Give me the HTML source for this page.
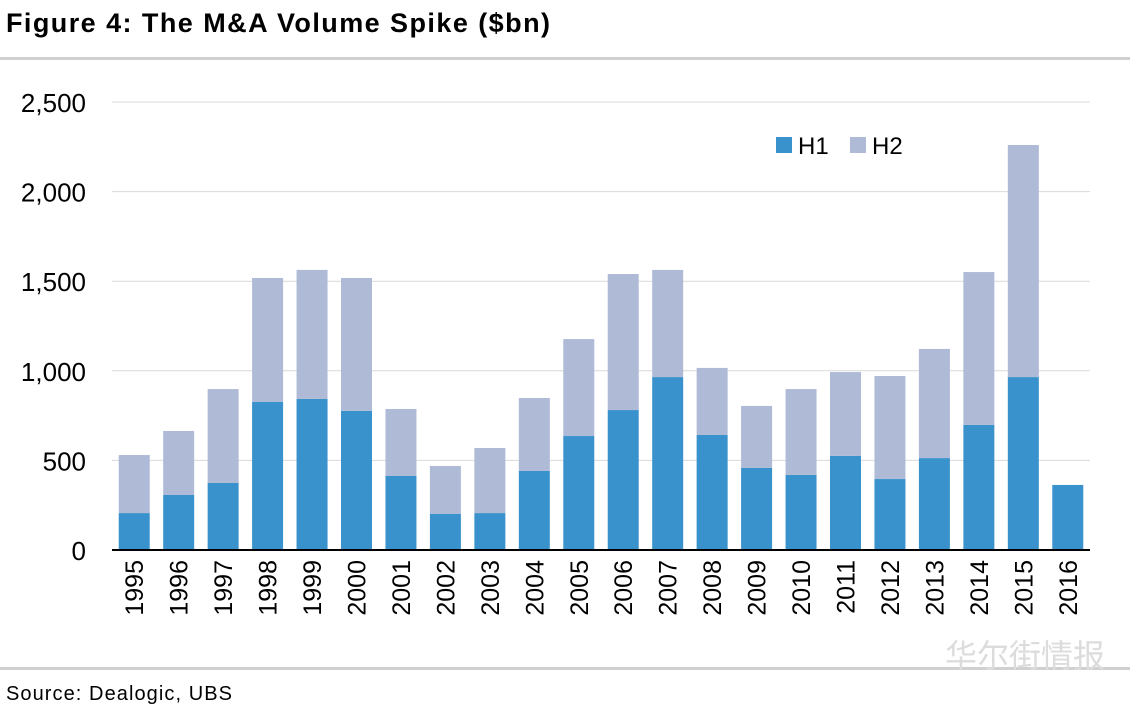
<!DOCTYPE html>
<html><head><meta charset="utf-8"><style>
body{margin:0;width:1140px;height:714px;background:#fff;font-family:"Liberation Sans","Noto Sans CJK SC",sans-serif;overflow:hidden}
</style></head><body>
<svg width="1140" height="714">
<text x="6" y="32" font-size="27" font-weight="bold" fill="#000" textLength="544">Figure 4: The M&amp;A Volume Spike ($bn)</text>
<rect x="0" y="57" width="1130" height="3" fill="#d0d0d0"/>
<rect x="0" y="667" width="1130" height="3" fill="#d0d0d0"/>
<text x="6" y="700" font-size="20" fill="#000" textLength="226">Source:  Dealogic, UBS</text>
<text x="945" y="667" font-size="32" fill="#dcdcdc">华尔街情报</text>
<g id="grid"></g><g id="bars"></g><g id="axes"></g>
<rect x="776" y="137" width="16" height="16" fill="#3a92cc"/>
<text x="798" y="154" font-size="24">H1</text>
<rect x="850" y="137" width="16" height="16" fill="#aebad6"/>
<text x="872" y="154" font-size="24">H2</text>
</svg>
<script>
const years=["1995","1996","1997","1998","1999","2000","2001","2002","2003","2004","2005","2006","2007","2008","2009","2010","2011","2012","2013","2014","2015","2016"];
const h1=[206,307,374,826,843,776,413,201,206,441,636,781,965,642,458,419,525,396,513,698,965,363];
const totals=[530,664,898,1518,1563,1518,787,469,569,848,1177,1540,1563,1016,804,898,993,971,1122,1551,2260,363];
const ticks=[0,500,1000,1500,2000,2500];
const tickLabels=["0","500","1,000","1,500","2,000","2,500"];
const NS="http://www.w3.org/2000/svg";
const x0=112,x1=1090,y0=550,yTop=102,vmax=2500;
const y=v=>y0-(v/vmax)*(y0-yTop);
const step=(x1-x0)/years.length;
const xc=i=>x0+step*(i+0.5);
const bw=31;
function mk(t,a,p){const e=document.createElementNS(NS,t);for(const k in a)e.setAttribute(k,a[k]);document.getElementById(p).appendChild(e);return e;}
ticks.forEach((t,i)=>{
 if(t>0){const g=mk('line',{x1:x0,x2:x1,y1:y(t),y2:y(t),stroke:'#d9d9d9','stroke-width':1},'grid');
 
 }
 const l=mk('text',{x:86,y:y(t)+10,'font-size':26,'text-anchor':'end'},'axes');l.textContent=tickLabels[i];
 
 
});
years.forEach((yr,i)=>{
 const a=mk('rect',{x:xc(i)-bw/2,y:y(h1[i]),width:bw,height:y0-y(h1[i]),fill:'#3a92cc'},'bars');
 
 
 const h2=totals[i]-h1[i];
 if(h2>0){const b=mk('rect',{x:xc(i)-bw/2,y:y(totals[i]),width:bw,height:y(h1[i])-y(totals[i]),fill:'#aebad6'},'bars');
 
 }
 const t=mk('text',{x:0,y:0,'font-size':25,'text-anchor':'end',transform:`translate(${xc(i)+9},560) rotate(-90)`},'axes');t.textContent=yr;
 
 
});
const ax=mk('line',{x1:x0,x2:x1,y1:y0,y2:y0,stroke:'#000','stroke-width':2},'axes');


</script>
</body></html>
